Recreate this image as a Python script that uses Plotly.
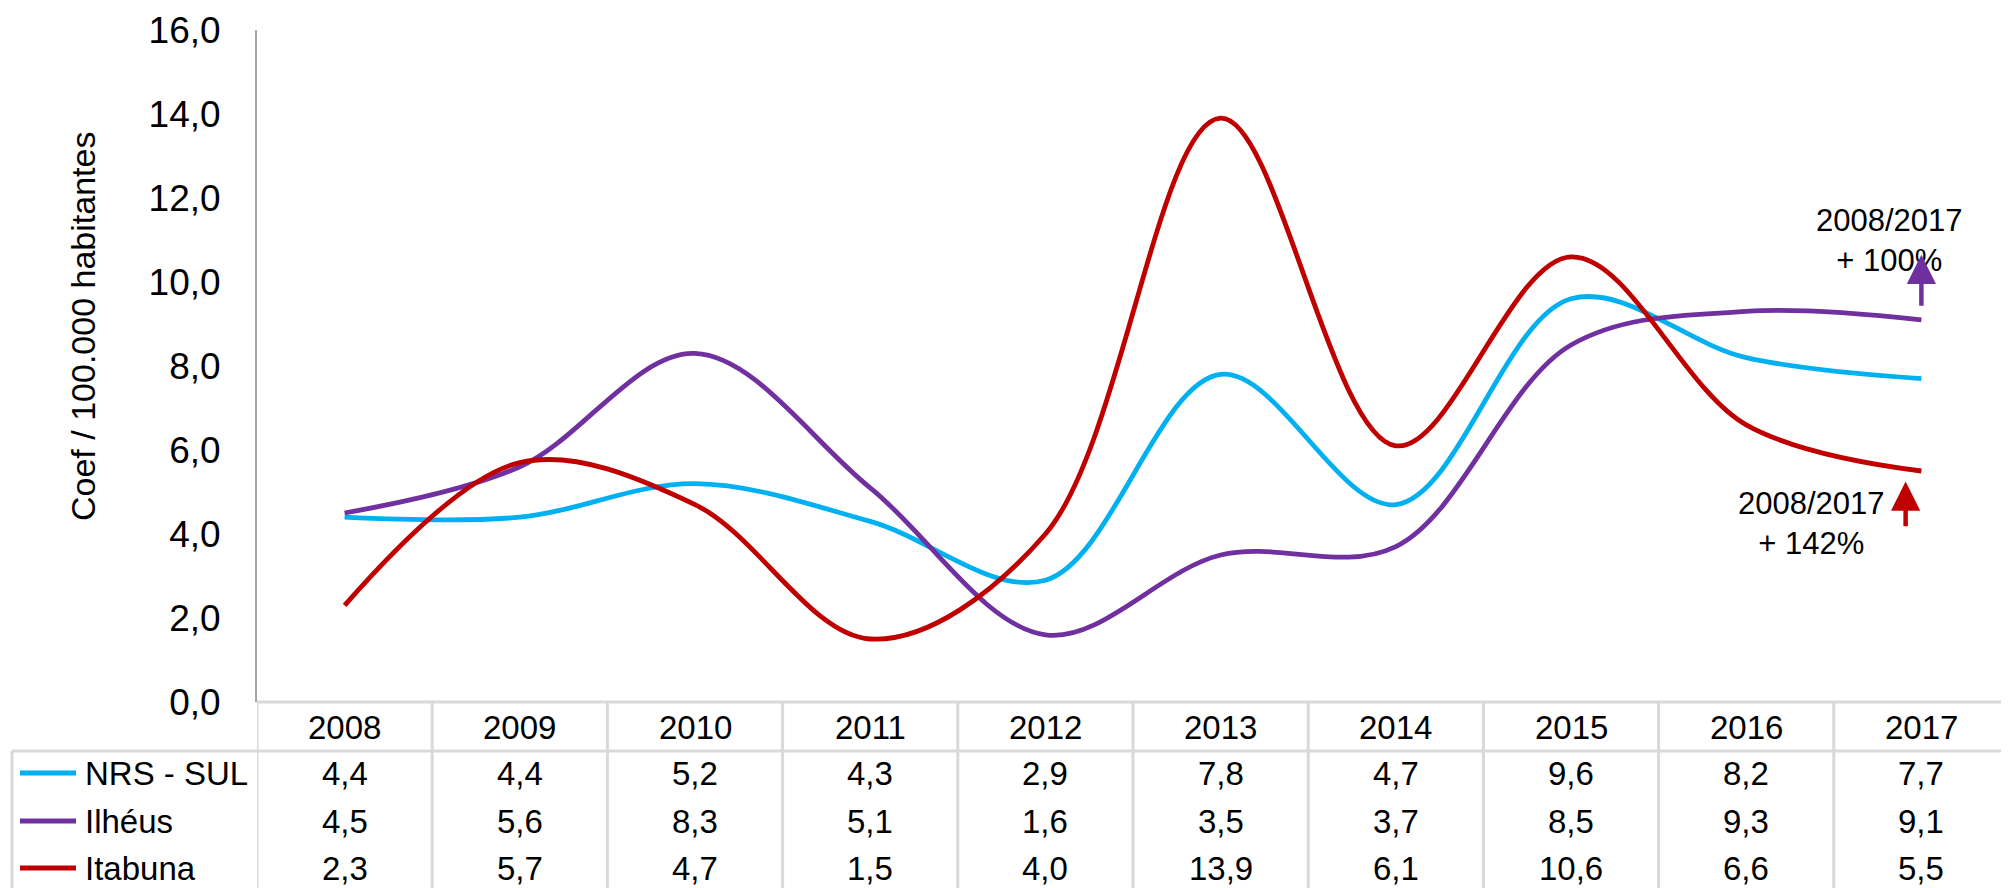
import plotly.graph_objects as go

years = ["2008", "2009", "2010", "2011", "2012", "2013", "2014", "2015", "2016", "2017"]
series_names = ["NRS - SUL", "Ilhéus", "Itabuna"]
nrs_sul = [4.4, 4.4, 5.2, 4.3, 2.9, 7.8, 4.7, 9.6, 8.2, 7.7]
ilheus = [4.5, 5.6, 8.3, 5.1, 1.6, 3.5, 3.7, 8.5, 9.3, 9.1]
itabuna = [2.3, 5.7, 4.7, 1.5, 4.0, 13.9, 6.1, 10.6, 6.6, 5.5]
colors = ["#00B0F0", "#7030A0", "#C00000"]
y_title = "Coef / 100.000 habitantes"
note_ilheus = "2008/2017<br>+ 100%"
note_itabuna = "2008/2017<br>+ 142%"

# page body adds an 8px margin; the figure is sized so the whole page is 2009x888
OFF = 8
W, H = 2009 - OFF, 888 - OFF
FONT = "Liberation Sans, Arial, sans-serif"

def px_x(p):
    return (p - OFF) / W

def px_y(p):
    return 1 - (p - OFF) / H

plot_left = 257
plot_top = 30
plot_bottom = 702
header_bottom = 751
header_y = 727
row_ys = [773, 821, 868]

fig = go.Figure()
all_series = [nrs_sul, ilheus, itabuna]
idx = list(range(len(years)))
for name, vals, col in zip(series_names, all_series, colors):
    fig.add_trace(go.Scatter(
        x=idx, y=vals, name=name, mode="lines",
        line=dict(color=col, width=4.8, shape="spline", smoothing=1.0),
        showlegend=False, hoverinfo="skip",
    ))

shapes = []
grid_col = "#D9D9D9"
shapes.append(dict(type="line", xref="x", yref="paper", x0=-0.5, x1=9.5,
                   y0=px_y(plot_bottom), y1=px_y(plot_bottom),
                   line=dict(color=grid_col, width=3)))
shapes.append(dict(type="line", xref="paper", yref="paper", x0=px_x(12), x1=1,
                   y0=px_y(header_bottom), y1=px_y(header_bottom),
                   line=dict(color=grid_col, width=3)))
for k in range(len(years) + 1):
    shapes.append(dict(type="line", xref="x", yref="paper", x0=k - 0.5, x1=k - 0.5,
                       y0=0, y1=px_y(plot_bottom),
                       line=dict(color=grid_col, width=3)))
shapes.append(dict(type="line", xref="paper", yref="paper", x0=px_x(12), x1=px_x(12),
                   y0=0, y1=px_y(header_bottom), line=dict(color=grid_col, width=3)))
for ry, col in zip(row_ys, colors):
    shapes.append(dict(type="line", xref="paper", yref="paper", x0=px_x(20), x1=px_x(76),
                       y0=px_y(ry), y1=px_y(ry), line=dict(color=col, width=5)))

tfont = dict(size=33, color="black", family=FONT)
annotations = []
for j, yr in enumerate(years):
    annotations.append(dict(x=j, y=px_y(header_y), xref="x", yref="paper", text=yr,
                            xanchor="center", yanchor="middle", showarrow=False, font=tfont))
for ry, name, vals in zip(row_ys, series_names, all_series):
    annotations.append(dict(x=px_x(83), y=px_y(ry), xref="paper", yref="paper", text=name,
                            xanchor="left", yanchor="middle", showarrow=False, font=tfont))
    for j, v in enumerate(vals):
        annotations.append(dict(x=j, y=px_y(ry), xref="x", yref="paper",
                                text=f"{v:.1f}".replace(".", ","), showarrow=False,
                                xanchor="center", yanchor="middle", font=tfont))

annotations.append(dict(x=px_x(83), y=px_y(327), xref="paper", yref="paper", text=y_title,
                        textangle=-90, showarrow=False, xanchor="center", yanchor="middle",
                        font=dict(size=34, color="black", family=FONT)))

nfont = dict(size=31, color="black", family=FONT)
annotations.append(dict(x=8.82, y=11.0, xref="x", yref="y", text=note_ilheus, showarrow=False,
                        xanchor="center", yanchor="middle", font=nfont))
annotations.append(dict(x=8.37, y=4.25, xref="x", yref="y", text=note_itabuna, showarrow=False,
                        xanchor="center", yanchor="middle", font=nfont))
annotations.append(dict(x=9.0, y=10.65, ax=9.0, ay=9.4, xref="x", yref="y", axref="x", ayref="y",
                        text="", showarrow=True, arrowhead=2, arrowsize=1.3, arrowwidth=4.5,
                        arrowcolor=colors[1]))
annotations.append(dict(x=8.91, y=5.25, ax=8.91, ay=4.15, xref="x", yref="y", axref="x", ayref="y",
                        text="", showarrow=True, arrowhead=2, arrowsize=1.3, arrowwidth=4.5,
                        arrowcolor=colors[2]))

fig.update_layout(
    template="none",
    width=W, height=H,
    margin=dict(l=0, r=0, t=0, b=0, pad=0),
    paper_bgcolor="white", plot_bgcolor="white",
    separators=",.",
    font=dict(family=FONT, color="black"),
    xaxis=dict(domain=[px_x(plot_left), 1], range=[-0.5, 9.5], automargin=False,
               showticklabels=False, showgrid=False, zeroline=False, showline=False, ticks=""),
    yaxis=dict(domain=[px_y(plot_bottom), px_y(plot_top)], range=[0, 16], dtick=2, tick0=0,
               automargin=False, tickformat=".1f", showgrid=False, zeroline=False, showline=True,
               linecolor="#A6A6A6", linewidth=2, ticks="", ticklabelstandoff=27,
               tickfont=dict(size=37, color="black", family=FONT)),
    shapes=shapes,
    annotations=annotations,
)

fig.write_html("out.html")
